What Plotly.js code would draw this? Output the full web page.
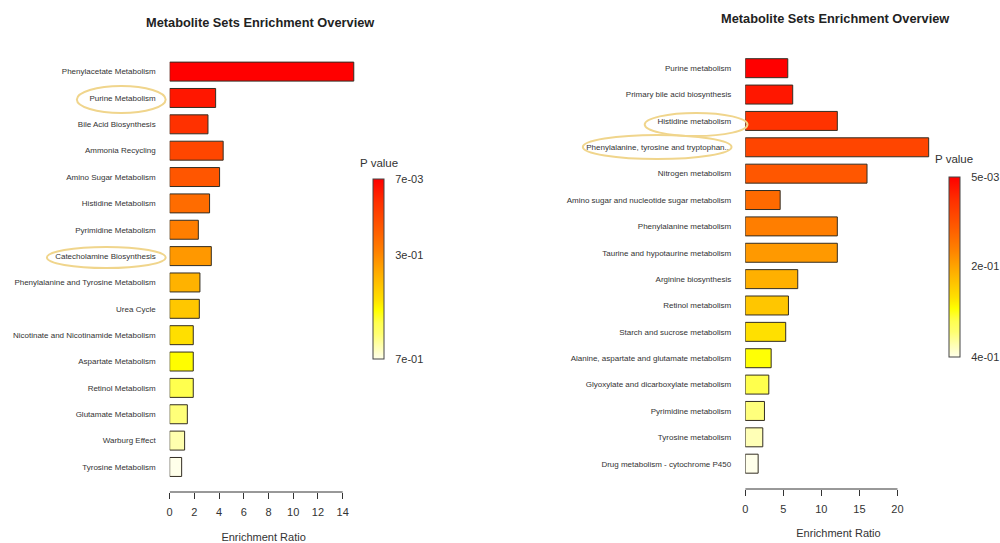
<!DOCTYPE html>
<html><head><meta charset="utf-8">
<script src="https://cdn.plot.ly/plotly-3.0.1.min.js"></script>
<style>html,body{margin:0;padding:0;background:#fff}#chart{width:1000px;height:543px}</style>
</head><body><div id="chart"></div>
<script>
// ---- Left panel data ----
const leftSets = ["Phenylacetate Metabolism","Purine Metabolism","Bile Acid Biosynthesis","Ammonia Recycling",
  "Amino Sugar Metabolism","Histidine Metabolism","Pyrimidine Metabolism","Catecholamine Biosynthesis",
  "Phenylalanine and Tyrosine Metabolism","Urea Cycle","Nicotinate and Nicotinamide Metabolism",
  "Aspartate Metabolism","Retinol Metabolism","Glutamate Metabolism","Warburg Effect","Tyrosine Metabolism"];
const leftRatio = [14.9, 3.72, 3.10, 4.33, 4.04, 3.23, 2.32, 3.37, 2.45, 2.40, 1.91, 1.91, 1.91, 1.43, 1.21, 0.97];
const leftP = [0.007, 0.05, 0.10, 0.15, 0.19, 0.24, 0.28, 0.33, 0.38, 0.42, 0.47, 0.51, 0.56, 0.61, 0.65, 0.70];
const leftLegendVals = [0.007, 0.3, 0.7];
const leftLegendText = ["7e-03", "3e-01", "7e-01"];
const leftXTicks = [0, 2, 4, 6, 8, 10, 12, 14];

// ---- Right panel data ----
const rightSets = ["Purine metabolism","Primary bile acid biosynthesis","Histidine metabolism",
  "Phenylalanine, tyrosine and tryptophan...","Nitrogen metabolism","Amino sugar and nucleotide sugar metabolism",
  "Phenylalanine metabolism","Taurine and hypotaurine metabolism","Arginine biosynthesis","Retinol metabolism",
  "Starch and sucrose metabolism","Alanine, aspartate and glutamate metabolism","Glyoxylate and dicarboxylate metabolism",
  "Pyrimidine metabolism","Tyrosine metabolism","Drug metabolism - cytochrome P450"];
const rightRatio = [5.59, 6.24, 12.1, 24.1, 16.0, 4.59, 12.1, 12.1, 6.9, 5.68, 5.32, 3.41, 3.10, 2.53, 2.31, 1.70];
const rightP = [0.005, 0.03, 0.06, 0.085, 0.11, 0.135, 0.16, 0.19, 0.215, 0.24, 0.27, 0.295, 0.32, 0.35, 0.375, 0.40];
const rightLegendVals = [0.005, 0.2, 0.4];
const rightLegendText = ["5e-03", "2e-01", "4e-01"];
const rightXTicks = [0, 5, 10, 15, 20];

const chartTitle = "Metabolite Sets Enrichment Overview";
const xTitle = "Enrichment Ratio";

const heat = [[0,'#FFFFEA'],[0.07,'#FFFFB0'],[0.14,'#FFFF70'],[0.2,'#FFFF50'],[0.27,'#FFFF00'],[0.33,'#FFE000'],[0.4,'#FFC800'],
  [0.5,'#FFA500'],[0.6,'#FF8000'],[0.73,'#FF5800'],[0.87,'#FF3000'],[1,'#FF0000']];
const FONT = "Liberation Sans, Arial, sans-serif";
const H = 543, W = 1000;
const px = v => v / W, py = v => 1 - v / H;

function barTrace(sets, ratio, p, legVals, legText, xa, ya, cbx, cbTop) {
  const neg = p.map(v => -v);
  return {
    type: 'bar', orientation: 'h', y: sets, x: ratio, xaxis: xa, yaxis: ya,
    width: 0.72, hoverinfo: 'x+y',
    marker: {
      color: neg, colorscale: heat,
      cmin: -Math.max(...legVals), cmax: -Math.min(...legVals),
      line: {color: '#332d22', width: 1},
      showscale: true,
      colorbar: {
        x: cbx, xanchor: 'left', xref: 'paper', y: cbTop, yanchor: 'top', yref: 'paper',
        len: 180 / H, lenmode: 'fraction', thickness: 11, thicknessmode: 'pixels',
        xpad: 0, ypad: 0, outlinecolor: '#444', outlinewidth: 1,
        tickvals: legVals.map(v => -v), ticktext: legText,
        ticks: 'outside', ticklen: 9, tickcolor: 'rgba(0,0,0,0)',
        tickfont: {family: FONT, size: 11, color: '#333'}
      }
    }
  };
}

const data = [
  barTrace(leftSets, leftRatio, leftP, leftLegendVals, leftLegendText, 'x', 'y', px(374), py(179)),
  barTrace(rightSets, rightRatio, rightP, rightLegendVals, rightLegendText, 'x2', 'y2', px(951), py(177))
];

function xAxis(domain, range, ticks, anchor, standoff) {
  return {
    domain: domain, range: range, anchor: anchor, showgrid: false, zeroline: false,
    showline: false,
    ticks: 'outside', ticklen: 6, tickcolor: '#333', tickvals: ticks, ticklabelstandoff: 4,
    tickfont: {family: FONT, size: 11, color: '#333'},
    title: {text: xTitle, font: {family: FONT, size: 11, color: '#333'}, standoff: standoff},
    automargin: false, fixedrange: true
  };
}
function yAxis(domain, range, sets, anchor) {
  return {
    domain: domain, range: range, anchor: anchor, type: 'category',
    categoryorder: 'array', categoryarray: sets,
    showgrid: false, zeroline: false, showline: false, ticks: '',
    ticklabelstandoff: 13,
    tickfont: {family: FONT, size: 8, color: '#333'}, automargin: false, fixedrange: true
  };
}

const oval = (x0, y0, x1, y1) => ({
  type: 'circle', xref: 'paper', yref: 'paper',
  x0: px(x0), x1: px(x1), y0: py(y1), y1: py(y0),
  line: {color: '#F0D58C', width: 2}
});
// axis baseline spanning the tick range only (R-style axis)
const baseline = (xref, ticks, yPix) => ({
  type: 'line', xref: xref, yref: 'paper',
  x0: ticks[0], x1: ticks[ticks.length - 1], y0: py(yPix), y1: py(yPix),
  line: {color: '#333', width: 1}
});

const layout = {
  width: W, height: H, margin: {l: 0, r: 0, t: 0, b: 0},
  paper_bgcolor: '#fff', plot_bgcolor: 'rgba(0,0,0,0)', showlegend: false,
  xaxis: xAxis([px(170), px(358.2)], [0, 15.2], leftXTicks, 'y', 19),
  yaxis: yAxis([py(492), py(50)], [15.95, -0.82], leftSets, 'x'),
  xaxis2: xAxis([px(746.7), px(933.6)], [0, 24.5], rightXTicks, 'y2', 15),
  yaxis2: yAxis([py(489), py(50)], [15.96, -0.69], rightSets, 'x2'),
  annotations: [
    {text: '<b>' + chartTitle + '</b>', xref: 'paper', yref: 'paper', x: px(261), y: py(22), showarrow: false,
      xanchor: 'center', yanchor: 'middle', font: {family: FONT, size: 12.8, color: '#222'}},
    {text: '<b>' + chartTitle + '</b>', xref: 'paper', yref: 'paper', x: px(837), y: py(18), showarrow: false,
      xanchor: 'center', yanchor: 'middle', font: {family: FONT, size: 12.8, color: '#222'}},
    {text: 'P value', xref: 'paper', yref: 'paper', x: px(380), y: py(163), showarrow: false,
      xanchor: 'center', yanchor: 'middle', font: {family: FONT, size: 11.5, color: '#333'}},
    {text: 'P value', xref: 'paper', yref: 'paper', x: px(956), y: py(159), showarrow: false,
      xanchor: 'center', yanchor: 'middle', font: {family: FONT, size: 11.5, color: '#333'}}
  ],
  shapes: [
    baseline('x', leftXTicks, 492),
    baseline('x2', rightXTicks, 489),
    oval(77, 86, 166, 113),
    oval(47, 247, 166, 268),
    oval(646, 113, 749, 136),
    oval(584, 135, 733, 159)
  ]
};

Plotly.newPlot('chart', data, layout, {displayModeBar: false});
</script>
</body></html>
